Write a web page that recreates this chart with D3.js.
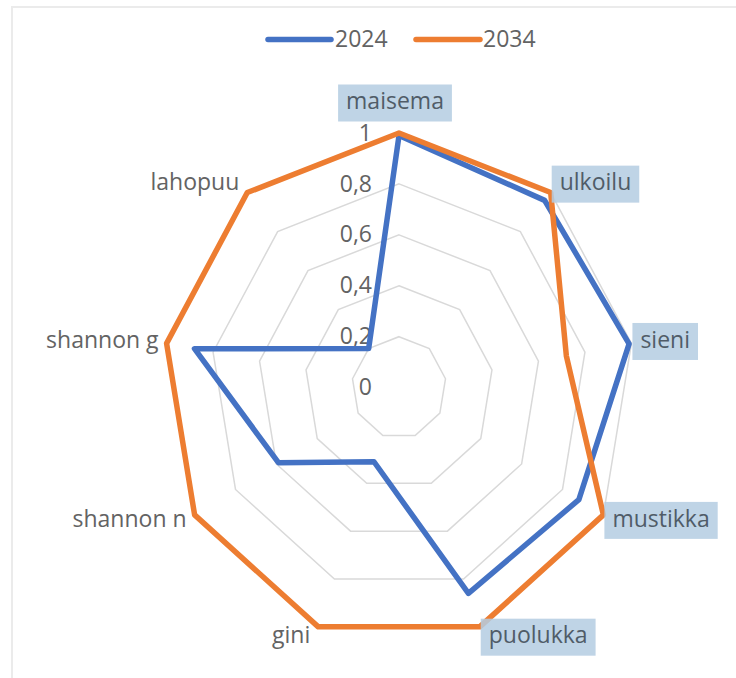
<!DOCTYPE html>
<html>
<head>
<meta charset="utf-8">
<script src="https://cdn.jsdelivr.net/npm/d3@7"></script>
<style>
  html, body { margin: 0; padding: 0; background: #ffffff; }
  svg { display: block; }
  text { font-family: "Open Sans", Lato, sans-serif; }
</style>
</head>
<body>
<svg id="chart" width="736" height="678"></svg>
<script>
// ---- data ----
const categories = ["maisema", "ulkoilu", "sieni", "mustikka", "puolukka", "gini", "shannon n", "shannon g", "lahopuu"];
const highlighted = ["maisema", "ulkoilu", "sieni", "mustikka", "puolukka"];
const seriesNames = ["2024", "2034"];
const values2024 = [0.99, 0.96, 0.99, 0.88, 0.86, 0.31, 0.59, 0.88, 0.20];
const values2034 = [1.00, 1.00, 0.72, 1.00, 1.00, 1.00, 1.00, 1.00, 1.00];
const tickValues = [0, 0.2, 0.4, 0.6, 0.8, 1];
const tickLabels = ["0", "0,2", "0,4", "0,6", "0,8", "1"];

// ---- layout ----
const svg = d3.select("#chart");
const cx = 399, cy = 387.6;
const colors = ["#4472C4", "#ED7D31"];

// the reference is slightly stretched vertically
const rx = d3.scaleLinear().domain([0, 1]).range([0, 236]);
const ry = d3.scaleLinear().domain([0, 1]).range([0, 254.6]);
const angle = d3.scaleLinear().domain([0, categories.length]).range([0, 2 * Math.PI]);

const px = (i, v) => cx + rx(v) * Math.sin(angle(i));
const py = (i, v) => cy - ry(v) * Math.cos(angle(i));

// frame
svg.append("rect")
  .attr("x", 12).attr("y", 7).attr("width", 760).attr("height", 720)
  .attr("fill", "#ffffff").attr("stroke", "#ebebeb").attr("stroke-width", 2);

// grid rings
const ringLine = d3.line()
  .x(d => px(d.i, d.v))
  .y(d => py(d.i, d.v))
  .curve(d3.curveLinearClosed);

svg.append("g").selectAll("path")
  .data(tickValues.filter(t => t > 0))
  .join("path")
  .attr("d", t => ringLine(categories.map((c, i) => ({ i, v: t }))))
  .attr("fill", "none")
  .attr("stroke", "#d9d9d9")
  .attr("stroke-width", 1.5);

// tick labels
svg.append("g").selectAll("text")
  .data(tickValues)
  .join("text")
  .attr("x", cx - 27)
  .attr("y", t => py(0, t) + 1.5)
  .attr("text-anchor", "end")
  .attr("dominant-baseline", "middle")
  .attr("font-size", 23)
  .attr("fill", "#636363")
  .text((t, k) => tickLabels[k]);

// series
const seriesData = [values2024, values2034];
const seriesLine = d3.line()
  .x(d => px(d.i, d.v))
  .y(d => py(d.i, d.v))
  .curve(d3.curveLinearClosed);

svg.append("g").selectAll("path")
  .data(seriesData)
  .join("path")
  .attr("d", vals => seriesLine(vals.map((v, i) => ({ i, v }))))
  .attr("fill", "none")
  .attr("stroke", (d, k) => colors[k])
  .attr("stroke-width", 5.5)
  .attr("stroke-linejoin", "round");

// category labels
const labG = svg.append("g");
categories.forEach((c, i) => {
  const a = angle(i);
  const s = Math.sin(a), co = Math.cos(a);
  let x = px(i, 1), y = py(i, 1);
  let anchor;
  if (Math.abs(s) < 0.1) { anchor = "middle"; x += -4; y += -30; }
  else if (s > 0) { anchor = "start"; x += 9; y += -co * 11; }
  else { anchor = "end"; x += -8; y += -co * 11; }
  const g = labG.append("g");
  const t = g.append("text")
    .attr("x", x).attr("y", y)
    .attr("text-anchor", anchor)
    .attr("dominant-baseline", "middle")
    .attr("font-size", 23)
    .attr("fill", highlighted.includes(c) ? "#505c68" : "#636363")
    .text(c);
  if (highlighted.includes(c)) {
    const bb = t.node().getBBox();
    g.insert("rect", "text")
      .attr("x", bb.x - 8).attr("y", y - 18.5)
      .attr("width", bb.width + 16).attr("height", 37)
      .attr("fill", "#b4cce2").attr("opacity", 0.85);
  }
});

// legend
const legend = svg.append("g");
const legItems = [
  { name: seriesNames[0], x1: 268, x2: 331, tx: 335, color: colors[0] },
  { name: seriesNames[1], x1: 416, x2: 480, tx: 483, color: colors[1] }
];
legItems.forEach(d => {
  legend.append("line")
    .attr("x1", d.x1).attr("x2", d.x2).attr("y1", 39.5).attr("y2", 39.5)
    .attr("stroke", d.color).attr("stroke-width", 5.5).attr("stroke-linecap", "round");
  legend.append("text")
    .attr("x", d.tx).attr("y", 40.5)
    .attr("dominant-baseline", "middle")
    .attr("font-size", 23)
    .attr("fill", "#636363")
    .text(d.name);
});
</script>
</body>
</html>
